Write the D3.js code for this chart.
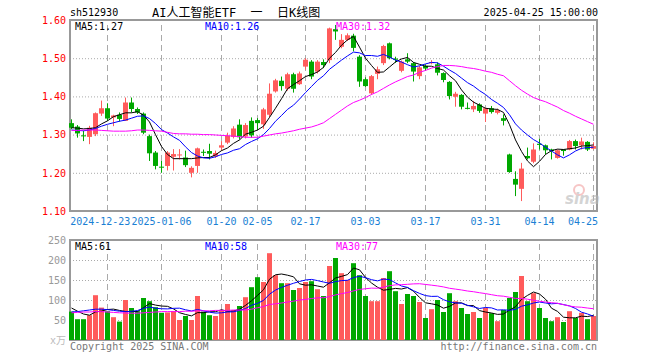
<!DOCTYPE html>
<html>
<head>
<meta charset="utf-8">
<script src="https://cdn.jsdelivr.net/npm/d3@7"></script>
<style>
  body { margin: 0; background: #ffffff; }
  svg text { font-family: "DejaVu Sans Mono", "Liberation Mono", "Noto Sans CJK SC", monospace; }
</style>
</head>
<body>
<script>
'use strict';

// trading days on the chart
const dates = [
  '2024-12-13','2024-12-16','2024-12-17','2024-12-18','2024-12-19','2024-12-20','2024-12-23','2024-12-24','2024-12-25','2024-12-26','2024-12-27','2024-12-30','2024-12-31',
  '2025-01-02','2025-01-03','2025-01-06','2025-01-07','2025-01-08','2025-01-09','2025-01-10','2025-01-13','2025-01-14','2025-01-15','2025-01-16','2025-01-17','2025-01-20','2025-01-21','2025-01-22','2025-01-23','2025-01-24','2025-01-27',
  '2025-02-05','2025-02-06','2025-02-07','2025-02-10','2025-02-11','2025-02-12','2025-02-13','2025-02-14','2025-02-17','2025-02-18','2025-02-19','2025-02-20','2025-02-21','2025-02-24','2025-02-25','2025-02-26','2025-02-27','2025-02-28',
  '2025-03-03','2025-03-04','2025-03-05','2025-03-06','2025-03-07','2025-03-10','2025-03-11','2025-03-12','2025-03-13','2025-03-14','2025-03-17','2025-03-18','2025-03-19','2025-03-20','2025-03-21','2025-03-24','2025-03-25','2025-03-26','2025-03-27','2025-03-28','2025-03-31',
  '2025-04-01','2025-04-02','2025-04-03','2025-04-07','2025-04-08','2025-04-09','2025-04-10','2025-04-11','2025-04-14','2025-04-15','2025-04-16','2025-04-17','2025-04-18','2025-04-21','2025-04-22','2025-04-23','2025-04-24','2025-04-25'
];

const openPrice = [
  1.330,1.321,1.298,1.294,1.301,1.355,1.369,1.345,1.352,1.336,1.384,1.367,1.355,
  1.296,1.253,1.216,1.218,1.242,1.246,1.240,1.200,1.218,1.255,1.257,1.243,1.266,1.279,1.294,1.326,1.295,1.336,
  1.338,1.327,1.352,1.413,1.441,1.420,1.458,1.432,1.478,1.491,1.465,1.490,1.495,1.576,1.530,1.548,1.559,1.504,
  1.445,1.408,1.459,1.487,1.539,1.499,1.467,1.497,1.487,1.453,1.480,1.487,1.484,1.461,1.438,1.399,1.404,1.370,1.366,1.379,1.355,
  1.369,1.357,1.343,1.248,1.184,1.158,1.244,1.229,1.276,1.272,1.261,1.239,1.261,1.261,1.283,1.272,1.281,1.263
];
const highPrice = [
  1.340,1.325,1.310,1.323,1.358,1.389,1.382,1.352,1.358,1.397,1.397,1.371,1.358,
  1.300,1.257,1.231,1.257,1.262,1.262,1.258,1.217,1.266,1.261,1.276,1.258,1.283,1.305,1.322,1.340,1.330,1.345,
  1.343,1.370,1.434,1.446,1.452,1.462,1.462,1.465,1.500,1.495,1.495,1.497,1.580,1.587,1.563,1.565,1.564,1.508,
  1.450,1.456,1.478,1.535,1.541,1.504,1.494,1.513,1.490,1.480,1.484,1.495,1.489,1.463,1.440,1.412,1.406,1.384,1.388,1.382,1.371,
  1.375,1.368,1.353,1.250,1.204,1.226,1.266,1.277,1.289,1.274,1.263,1.261,1.261,1.286,1.287,1.292,1.283,1.280
];
const lowPrice = [
  1.314,1.292,1.283,1.275,1.296,1.349,1.336,1.322,1.334,1.336,1.358,1.354,1.301,
  1.231,1.209,1.200,1.206,1.206,1.235,1.215,1.188,1.200,1.244,1.235,1.239,1.258,1.275,1.290,1.287,1.290,1.292,
  1.312,1.315,1.345,1.410,1.415,1.415,1.410,1.430,1.470,1.445,1.460,1.474,1.487,1.548,1.526,1.545,1.518,1.425,
  1.425,1.404,1.445,1.482,1.497,1.488,1.463,1.487,1.439,1.445,1.467,1.484,1.455,1.437,1.392,1.373,1.366,1.366,1.359,1.357,1.333,
  1.355,1.353,1.324,1.200,1.139,1.126,1.235,1.225,1.261,1.248,1.235,1.237,1.245,1.259,1.261,1.261,1.257,1.261
];
const closePrice = [
  1.318,1.303,1.296,1.318,1.356,1.369,1.342,1.350,1.341,1.384,1.367,1.358,1.305,
  1.251,1.218,1.215,1.253,1.249,1.248,1.220,1.213,1.264,1.254,1.250,1.252,1.272,1.297,1.316,1.293,1.325,1.298,
  1.330,1.366,1.407,1.442,1.427,1.458,1.420,1.460,1.496,1.452,1.491,1.482,1.578,1.570,1.548,1.560,1.527,1.439,
  1.427,1.453,1.471,1.532,1.500,1.496,1.491,1.491,1.465,1.476,1.473,1.490,1.462,1.443,1.401,1.407,1.373,1.368,1.375,1.362,1.369,
  1.359,1.364,1.336,1.202,1.169,1.211,1.238,1.261,1.273,1.259,1.257,1.259,1.257,1.283,1.270,1.282,1.261,1.270
];

// price moving averages
const ma5 = [
  1.318,1.317,1.315,1.316,1.318,1.328,1.336,1.347,1.352,1.357,1.357,1.360,1.351,
  1.333,1.300,1.269,1.248,1.237,1.237,1.237,1.237,1.239,1.240,1.240,1.247,1.258,1.265,1.277,1.286,1.301,1.306,
  1.312,1.322,1.345,1.369,1.394,1.420,1.431,1.441,1.452,1.457,1.464,1.476,1.500,1.515,1.534,1.548,1.557,1.529,
  1.500,1.481,1.463,1.464,1.477,1.490,1.498,1.502,1.489,1.484,1.479,1.479,1.473,1.469,1.454,1.441,1.417,1.398,1.385,1.377,1.369,
  1.367,1.366,1.358,1.326,1.286,1.256,1.231,1.216,1.230,1.248,1.258,1.262,1.261,1.263,1.265,1.270,1.271,1.273
];
const ma10 = [
  1.312,1.311,1.310,1.312,1.316,1.322,1.327,1.331,1.335,1.338,1.343,1.348,1.349,
  1.342,1.329,1.313,1.304,1.294,1.285,1.268,1.253,1.244,1.239,1.238,1.242,1.248,1.252,1.259,1.263,1.274,1.282,
  1.289,1.300,1.316,1.335,1.350,1.366,1.377,1.393,1.410,1.426,1.442,1.454,1.471,1.483,1.495,1.506,1.516,1.514,
  1.507,1.507,1.505,1.510,1.503,1.495,1.490,1.483,1.477,1.480,1.485,1.489,1.488,1.479,1.469,1.460,1.448,1.436,1.427,1.415,1.405,
  1.392,1.382,1.371,1.352,1.328,1.312,1.299,1.287,1.278,1.267,1.257,1.247,1.239,1.247,1.257,1.264,1.266,1.267
];
const ma30 = [
  1.311,1.311,1.312,1.312,1.312,1.311,1.310,1.309,1.309,1.309,1.310,1.312,1.312,
  1.311,1.310,1.309,1.306,1.303,1.302,1.302,1.301,1.301,1.300,1.300,1.299,1.298,1.297,1.296,1.295,1.293,1.293,
  1.293,1.296,1.299,1.302,1.304,1.307,1.310,1.314,1.317,1.320,1.325,1.331,1.342,1.353,1.364,1.375,1.384,1.390,
  1.397,1.405,1.412,1.421,1.430,1.438,1.445,1.452,1.456,1.463,1.468,1.474,1.478,1.481,1.481,1.480,1.478,1.475,1.473,1.470,1.466,
  1.463,1.458,1.454,1.441,1.428,1.416,1.406,1.397,1.391,1.386,1.379,1.372,1.363,1.356,1.348,1.341,1.334,1.327
];

// volume, in 10k shares
const volume = [
  71,52,52,62,112,81,72,57,46,100,80,72,105,
  97,82,68,69,72,50,60,50,110,71,62,60,75,90,75,85,107,132,
  157,145,217,162,142,142,125,130,145,147,127,110,185,205,167,150,192,162,
  110,97,97,155,172,122,90,115,110,95,55,77,100,70,117,97,80,65,70,55,80,
  67,47,75,105,120,160,97,117,80,55,47,57,45,72,55,68,52,60
];
const volMa5 = [
  80,72,65,62,70.2,72.2,76.2,77.2,73.9,71.4,71.2,71.2,80.7,
  91,87.3,84.9,84.2,77.7,68.2,63.9,60.3,68.5,68.2,70.7,70.7,75.7,71.7,72.5,77,86.5,98,
  111.5,125.5,152,163,165,162,158,140.5,137,138,135,132,143,155,159,163.5,180,175.5,
  156.5,142.5,132,124.5,126.5,129,127.5,131,122,106.5,93,90.5,87.5,79.5,84,92.5,93,86,86,73.5,70,
  67.5,64,65,75,83,101.5,111.5,120,115,102,79.5,71.5,57,55.5,55.5,59.6,58.6,61.6
];
const volMa10 = [
  70,71,73,75,77,77,76,74,72,70.8,71.7,73.7,79,
  82.5,79.4,78.1,77.7,79.2,79.6,75.6,72.6,76.4,73,69.5,67.3,68,70.1,70.4,73.9,78.6,86.9,
  91.6,99,114.5,124.8,131.5,136.8,141.8,146.3,150,151.5,148.5,145,141.8,146,148.5,149.3,156,159.3,
  155.8,150.8,147.8,152.3,151,142.8,135,131.5,123.3,116.5,111,109,109.3,100.8,95.3,92.8,91.8,86.8,82.8,78.8,81.3,
  80.3,75,75.5,74.3,76.5,84.5,87.8,92.5,95,92.5,90.5,91.5,88.5,85.3,78.8,69.6,65.1,59.3
];
const volMa30 = [
  68,69,70,70,71,71,70,69,68,67.5,67,67,68,
  69,70,71,71,71,71,72,72,73,73,73,74,74,74,75,75,75,77.1,
  80.6,83.6,88.8,90.5,92.5,94.9,97.1,99.9,101.4,103.7,105.5,105.7,108.6,112.7,116,118.7,122.7,126.5,
  128.1,129.7,129.3,132.1,135.8,137.8,138.3,139.2,140.3,140.7,138.9,137.1,135.2,132.7,129.3,127.2,125.1,122.5,120.7,118.2,116,
  113.3,110.7,109.5,106.8,104,103.8,102,99.5,96.8,94.9,93.3,91.9,88.3,84.9,82.7,81.9,79.9,78.2
];

// axis ticks and labels
const priceTicks = [1.10, 1.20, 1.30, 1.40, 1.50, 1.60];
const volumeTicks = [50, 100, 150, 200, 250];
const dateTicks = ['2024-12-23','2025-01-06','2025-01-20','2025-02-05','2025-02-17','2025-03-03','2025-03-17','2025-03-31','2025-04-14','2025-04-25'];
const dateTickLabels = ['2024-12-23','2025-01-06','01-20','02-05','02-17','03-03','03-17','03-31','04-14','04-25'];
const priceLegend = ['MA5:1.27', 'MA10:1.26', 'MA30:1.32'];
const volumeLegend = ['MA5:61', 'MA10:58', 'MA30:77'];

(function() {

  let svgContainer = ''; // keep SVG reference in this scope
  const upColor = '#ff5b5b';
  const downColor = '#00a800';
  const maColors = ['#000000', '#0000ff', '#ff00ff'];
  const gridColor = '#aaaaaa';
  const left = 70, right = 597;
  const charW = 6.02; // width of one 10px mono glyph

  window.onload = function() {
    svgContainer = d3.select('body')
      .append('svg')
      .attr('width', 660)
      .attr('height', 360);

    let rows = dates.map((d, i) => ({
      date: d, open: openPrice[i], high: highPrice[i], low: lowPrice[i],
      close: closePrice[i], vol: volume[i]
    }));

    let xScale = d3.scaleBand().domain(dates).range([68.5, 596.5]);
    let xMid = (d) => xScale(d) + xScale.bandwidth() / 2;
    let yPrice = d3.scaleLinear().domain([1.10, 1.60]).range([211, 20]);
    let yVol = d3.scaleLinear().domain([0, 250]).range([340, 240]);

    drawHeader();
    drawPanel(xScale, yPrice, [1.20, 1.30, 1.40, 1.50], 20, 211);
    drawPanel(xScale, yVol, [50, 100, 150, 200], 240, 340);
    drawWatermark();

    // price axis labels
    svgContainer.append('g')
      .attr('transform', 'translate(69, 0)')
      .call(d3.axisLeft(yPrice).tickValues(priceTicks).tickSize(0).tickPadding(3).tickFormat(d3.format('.2f')))
      .call((g) => g.select('.domain').remove())
      .selectAll('text')
        .attr('fill', '#ff0000')
        .style('font-size', '10px');

    // volume axis labels
    svgContainer.append('g')
      .attr('transform', 'translate(69, 0)')
      .call(d3.axisLeft(yVol).tickValues(volumeTicks).tickSize(0).tickPadding(3))
      .call((g) => g.select('.domain').remove())
      .selectAll('text')
        .attr('fill', '#999999')
        .style('font-size', '10px');

    svgContainer.append('text')
      .attr('x', 66)
      .attr('y', 344)
      .attr('text-anchor', 'end')
      .attr('fill', '#bbbbbb')
      .style('font-size', '10px')
      .text('x万');

    drawDateLabels(xMid);

    drawCandles(rows, xMid, yPrice);
    drawVolume(rows, xMid, yVol);

    drawLines([ma5, ma10, ma30], xMid, yPrice);
    drawLines([volMa5, volMa10, volMa30], xMid, yVol);

    drawLegend(priceLegend, 30);
    drawLegend(volumeLegend, 250);

    // footer
    svgContainer.append('text')
      .attr('x', left)
      .attr('y', 350)
      .attr('fill', '#777777')
      .style('font-size', '10px')
      .text('Copyright 2025 SINA.COM');
    svgContainer.append('text')
      .attr('x', right)
      .attr('y', 350)
      .attr('text-anchor', 'end')
      .attr('fill', '#777777')
      .style('font-size', '10px')
      .text('http://finance.sina.com.cn');
  }

  function drawHeader() {
    svgContainer.append('text')
      .attr('x', left)
      .attr('y', 16)
      .style('font-size', '10px')
      .text('sh512930');
    svgContainer.append('text')
      .attr('x', 152)
      .attr('y', 17)
      .style('font-size', '12px')
      .style('white-space', 'pre')
      .text('AI人工智能ETF  一  日K线图');
    svgContainer.append('text')
      .attr('x', 598)
      .attr('y', 16)
      .attr('text-anchor', 'end')
      .style('font-size', '10px')
      .text('2025-04-25 15:00:00');
  }

  // date labels under the price panel, kept apart and inside the frame
  function drawDateLabels(xMid) {
    let boxes = dateTicks.map((d, k) => {
      let w = dateTickLabels[k].length * charW;
      return { label: dateTickLabels[k], w: w, x0: xMid(d) - w / 2 };
    });
    // last label may not run past the right edge
    let last = boxes[boxes.length - 1];
    last.x0 = Math.min(last.x0, 598 - last.w);
    // walk back so a label ends where the next one starts
    for (let k = boxes.length - 2; k >= 0; k--) {
      let limit = boxes[k + 1].x0 - 1;
      if (boxes[k].x0 + boxes[k].w > limit) boxes[k].x0 = limit - boxes[k].w;
    }
    boxes.forEach((b) => {
      svgContainer.append('text')
        .attr('x', b.x0)
        .attr('y', 225)
        .attr('fill', '#1a7fd4')
        .style('font-size', '10px')
        .text(b.label);
    });
  }

  // frame, dotted rows and dashed date columns of one panel
  function drawPanel(xScale, yScale, rowTicks, top, bottom) {
    svgContainer.append('g')
      .attr('transform', 'translate(' + left + ', 0)')
      .call(d3.axisLeft(yScale).tickValues(rowTicks).tickSize(-(right - left)).tickFormat(''))
      .call((g) => g.select('.domain').remove())
      .selectAll('line')
        .attr('stroke', gridColor)
        .attr('stroke-dasharray', '1,2');

    svgContainer.append('g')
      .attr('transform', 'translate(0, ' + bottom + ')')
      .call(d3.axisBottom(xScale).tickValues(dateTicks).tickSize(-(bottom - top)).tickFormat(''))
      .call((g) => g.select('.domain').remove())
      .selectAll('line')
        .attr('stroke', gridColor)
        .attr('stroke-dasharray', '6,4');

    svgContainer.append('rect')
      .attr('x', left)
      .attr('y', top)
      .attr('width', right - left)
      .attr('height', bottom - top)
      .attr('fill', 'none')
      .attr('stroke', '#999999')
      .attr('stroke-width', 2);
  }

  function drawWatermark() {
    let g = svgContainer.append('g').attr('opacity', 0.6);
    g.append('circle')
      .attr('cx', 579)
      .attr('cy', 190)
      .attr('r', 5)
      .attr('fill', 'none')
      .attr('stroke', '#f2a0a0')
      .attr('stroke-width', 2);
    g.append('text')
      .attr('x', 565)
      .attr('y', 204)
      .attr('fill', '#b8b8b8')
      .style('font-family', 'DejaVu Sans')
      .style('font-size', '15px')
      .style('font-weight', 'bold')
      .style('font-style', 'italic')
      .text('sina');
  }

  function drawCandles(rows, xMid, yScale) {
    let candles = svgContainer.selectAll('.candle')
      .data(rows)
      .enter()
      .append('g')
        .attr('class', 'candle');

    candles.append('line')
      .attr('x1', (d) => xMid(d.date))
      .attr('x2', (d) => xMid(d.date))
      .attr('y1', (d) => yScale(d.high))
      .attr('y2', (d) => yScale(d.low))
      .attr('stroke', (d) => d.close >= d.open ? upColor : downColor);

    candles.append('rect')
      .attr('x', (d) => xMid(d.date) - 2.5)
      .attr('y', (d) => yScale(Math.max(d.open, d.close)))
      .attr('width', 5)
      .attr('height', (d) => Math.max(1, Math.abs(yScale(d.open) - yScale(d.close))))
      .attr('fill', (d) => d.close >= d.open ? upColor : downColor);
  }

  function drawVolume(rows, xMid, yScale) {
    svgContainer.selectAll('.vol')
      .data(rows)
      .enter()
      .append('rect')
        .attr('class', 'vol')
        .attr('x', (d) => xMid(d.date) - 2.5)
        .attr('y', (d) => yScale(d.vol))
        .attr('width', 5)
        .attr('height', (d) => yScale(0) - yScale(d.vol))
        .attr('fill', (d) => d.close >= d.open ? upColor : downColor);
  }

  function drawLines(series, xMid, yScale) {
    series.forEach((values, k) => {
      let line = d3.line()
        .x((v, i) => xMid(dates[i]))
        .y((v) => yScale(v));
      svgContainer.append('path')
        .datum(values)
        .attr('d', line)
        .attr('fill', 'none')
        .attr('stroke', maColors[k])
        .attr('stroke-width', 1);
    });
  }

  function drawLegend(labels, y) {
    let xs = [75, 205, 336];
    labels.forEach((label, k) => {
      svgContainer.append('text')
        .attr('x', xs[k])
        .attr('y', y)
        .attr('fill', maColors[k])
        .style('font-size', '10px')
        .text(label);
    });
  }

})();
</script>
</body>
</html>
